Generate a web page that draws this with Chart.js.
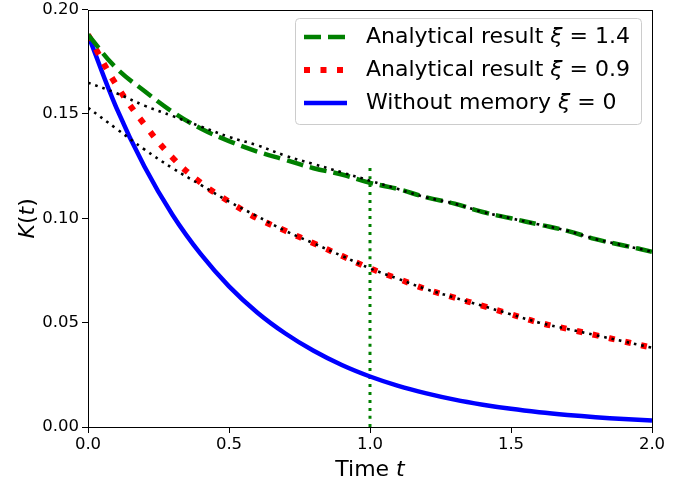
<!DOCTYPE html>
<html>
<head>
<meta charset="utf-8">
<script src="https://cdn.jsdelivr.net/npm/chart.js@4"></script>
<style>
  html, body { margin: 0; padding: 0; background: #fff; }
  #wrap { width: 693px; height: 484px; }
</style>
</head>
<body>
<div id="wrap"><canvas id="myChart" width="693" height="484"></canvas></div>
<script>
// --- données ---
const times = [0, 0.1, 0.2, 0.3, 0.4, 0.5, 0.6, 0.7, 0.8, 0.9, 1.0,
               1.1, 1.2, 1.3, 1.4, 1.5, 1.6, 1.7, 1.8, 1.9, 2.0];
const kXi14 = [0.188, 0.172, 0.161, 0.151, 0.143, 0.137, 0.132, 0.128, 0.124, 0.121, 0.117,
               0.114, 0.110, 0.107, 0.103, 0.100, 0.097, 0.094, 0.090, 0.087, 0.084];
const kXi09 = [0.188, 0.164, 0.145, 0.129, 0.117, 0.108, 0.100, 0.094, 0.088, 0.082, 0.076,
               0.071, 0.066, 0.062, 0.058, 0.054, 0.050, 0.047, 0.044, 0.041, 0.038];
const kNoMemory = [0.188, 0.1532, 0.1248, 0.1016, 0.0828, 0.0674, 0.0549, 0.0448, 0.0365, 0.0297, 0.0242,
                   0.0197, 0.0161, 0.0131, 0.0107, 0.0087, 0.0071, 0.0058, 0.0047, 0.0038, 0.0031];
const asym14 = [0.165, 0.160, 0.154, 0.149, 0.144, 0.139, 0.135, 0.130, 0.126, 0.122, 0.118,
                0.114, 0.110, 0.107, 0.103, 0.100, 0.097, 0.094, 0.090, 0.087, 0.084];
const asym09 = [0.153, 0.143, 0.133, 0.124, 0.116, 0.108, 0.101, 0.094, 0.088, 0.082, 0.076,
                0.071, 0.066, 0.062, 0.058, 0.054, 0.050, 0.047, 0.044, 0.041, 0.038];
const markT = [1, 1];
const markK = [0, 0.125];
const xTicks = [0, 0.5, 1.0, 1.5, 2.0];
const yTicks = [0, 0.05, 0.10, 0.15, 0.20];

const legendItems = [
    { text: 'Analytical result ', rest: ' = 1.4', color: '#008000', width: 4.5, dash: [17, 7] },
    { text: 'Analytical result ', rest: ' = 0.9', color: '#ff0000', width: 6, dash: [6, 10.5] },
    { text: 'Without memory ', rest: ' = 0', color: '#0000ff', width: 4.5, dash: [] }
];

const pts = (xs, ys) => xs.map((x, i) => ({ x: x, y: ys[i] }));
const FONT = "'DejaVu Sans', sans-serif";
Chart.defaults.font.family = FONT;
Chart.defaults.color = '#000';

function line(data, color, width, dash, order) {
    return {
        data: data,
        borderColor: color,
        borderWidth: width,
        borderDash: dash,
        borderCapStyle: 'butt',
        pointRadius: 0,
        fill: false,
        tension: 0.4,
        order: order
    };
}

// écrit une suite de morceaux [texte, italique] à partir de x
function mixedText(ctx, parts, x, y, size) {
    parts.forEach(p => {
        ctx.font = (p[1] ? 'italic ' : '') + size + 'px ' + FONT;
        ctx.fillText(p[0], x, y);
        x += ctx.measureText(p[0]).width;
    });
    return x;
}
function mixedWidth(ctx, parts, size) {
    let w = 0;
    parts.forEach(p => {
        ctx.font = (p[1] ? 'italic ' : '') + size + 'px ' + FONT;
        w += ctx.measureText(p[0]).width;
    });
    return w;
}

// cadre, titres d'axes et légende dessinés à la main
const decorations = {
    id: 'decorations',
    afterDraw(chart) {
        const { ctx, chartArea: a } = chart;
        ctx.save();
        ctx.strokeStyle = '#000';
        ctx.lineWidth = 1;
        ctx.setLineDash([]);
        ctx.strokeRect(Math.round(a.left) + 0.5, Math.round(a.top) + 0.5,
                       Math.round(a.right - a.left), Math.round(a.bottom - a.top));

        ctx.fillStyle = '#000';
        ctx.textBaseline = 'alphabetic';

        // titre axe x : "Time t"
        const xt = [['Time ', false], ['t', true]];
        mixedText(ctx, xt, (a.left + a.right) / 2 - mixedWidth(ctx, xt, 22) / 2, 476, 22);

        // titre axe y : "K(t)"
        ctx.save();
        ctx.translate(34, (a.top + a.bottom) / 2);
        ctx.rotate(-Math.PI / 2);
        const yt = [['K', true], ['(', false], ['t', true], [')', false]];
        mixedText(ctx, yt, -mixedWidth(ctx, yt, 22) / 2, 0, 22);
        ctx.restore();

        // légende
        const bx = 295, by = 18, bw = 346, bh = 106;
        ctx.beginPath();
        if (ctx.roundRect) ctx.roundRect(bx + 0.5, by + 0.5, bw, bh, 4);
        else ctx.rect(bx + 0.5, by + 0.5, bw, bh);
        ctx.fillStyle = 'rgba(255,255,255,0.8)';
        ctx.fill();
        ctx.strokeStyle = '#cccccc';
        ctx.lineWidth = 1;
        ctx.stroke();

        legendItems.forEach((it, i) => {
            const cy = 37 + i * 33;
            ctx.beginPath();
            ctx.strokeStyle = it.color;
            ctx.lineWidth = it.width;
            ctx.lineCap = 'butt';
            ctx.setLineDash(it.dash);
            ctx.moveTo(304, cy);
            ctx.lineTo(347, cy);
            ctx.stroke();
            ctx.setLineDash([]);

            ctx.fillStyle = '#000';
            ctx.textBaseline = 'middle';
            mixedText(ctx, [[it.text, false], ['ξ', true], [it.rest, false]], 366, cy, 22);
        });
        ctx.restore();
    }
};

new Chart(document.getElementById('myChart'), {
    type: 'line',
    data: {
        datasets: [
            line(pts(times, asym14), '#000000', 2.6, [2.6, 5], 0),
            line(pts(times, asym09), '#000000', 2.6, [2.6, 5], 0),
            line(pts(times, kXi14), '#008000', 4.5, [17, 7], 1),
            line(pts(times, kXi09), '#ff0000', 6, [6, 10.5], 2),
            line(pts(times, kNoMemory), '#0000ff', 4.5, [], 3),
            line(pts(markT, markK), '#008000', 3, [3, 5], 4)
        ]
    },
    options: {
        responsive: false,
        animation: false,
        events: [],
        layout: { padding: { left: 0, top: 7, right: 41, bottom: 0 } },
        plugins: {
            legend: { display: false },
            tooltip: { enabled: false }
        },
        scales: {
            x: {
                type: 'linear',
                min: 0,
                max: 2,
                afterBuildTicks: s => { s.ticks = xTicks.map(v => ({ value: v })); },
                afterFit: s => { s.height = 57; },
                ticks: {
                    font: { size: 16.5 },
                    color: '#000',
                    padding: 2,
                    maxRotation: 0,
                    callback: v => Number(v).toFixed(1)
                },
                grid: { drawOnChartArea: false, drawTicks: true, tickLength: 6, color: '#000' },
                border: { display: false }
            },
            y: {
                min: 0,
                max: 0.2,
                afterBuildTicks: s => { s.ticks = yTicks.map(v => ({ value: v })); },
                afterFit: s => { s.width = 88; },
                ticks: {
                    font: { size: 16.5, lineHeight: 0.8 },
                    color: '#000',
                    padding: 3,
                    callback: v => Number(v).toFixed(2)
                },
                grid: { drawOnChartArea: false, drawTicks: true, tickLength: 6, color: '#000' },
                border: { display: false }
            }
        }
    },
    plugins: [decorations]
});
</script>
</body>
</html>
